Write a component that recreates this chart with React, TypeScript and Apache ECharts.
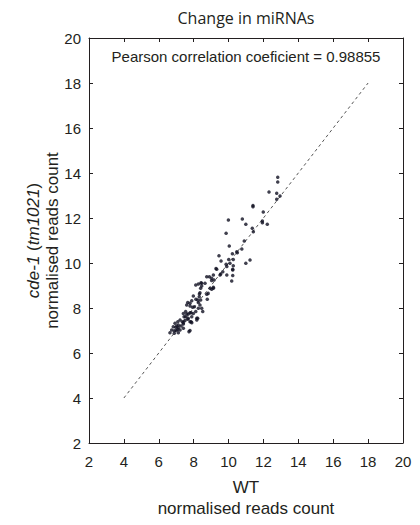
import React, { useEffect, useRef } from "react";
import * as echarts from "echarts";

const titleText = "Change in miRNAs";
const pearsonText = "Pearson correlation coeficient = 0.98855";
const xNameLines = ["WT", "normalised reads count"];
const yNameLines = ["{i|cde-1} ({i|tm1021})", "normalised reads count"];

const axisMin = 2;
const axisMax = 20;
const axisStep = 2;

const refLine = [4, 18];

const wt = [
  12.82, 12.82, 12.32, 12.76, 12.95, 12.76, 11.4, 11.4, 11.99, 9.99,
  10.79, 10.99, 11.94, 11.94, 12.22, 11.36, 11.42, 9.86, 10.9, 10.04,
  10.76, 10.47, 10.22, 9.45, 10.01, 9.57, 11.23, 10.99, 9.86, 10.27,
  9.28, 10.24, 9.67, 9.13, 8.9, 8.75, 9.51, 9.9, 10.24, 10.18,
  8.46, 8.12, 8.27, 8.42, 8.65, 8.46, 9.03, 9.17, 8.75, 8.83,
  9.13, 8.33, 7.66, 7.79, 7.89, 8.23, 8.36, 8.46, 8.27, 8.04,
  8.12, 7.41, 7.54, 7.69, 7.85, 7.98, 8.23, 7.54, 7.66, 7.22,
  7.35, 7.85, 6.93, 7.09, 7.12, 7.28, 7.41, 6.83, 6.97, 6.74,
  6.89, 7.09, 7.22, 7.41, 6.64, 6.89, 7.12, 7.73, 10.27, 10.24,
  10.08, 9.9, 9.32, 9.03, 9.55, 8.94, 9.13, 9.03, 8.4, 8.36,
  7.98, 8.13, 8.32, 8.4, 8.27, 8.78, 7.6, 7.79, 7.94, 8.52,
  7.6, 7.79, 7.45, 7.69, 7.89, 8.18, 7.41, 7.5, 7.79, 7.89,
  8.18, 7.03, 7.12, 7.0, 7.79, 10.5,
];

const cde = [
  13.81, 13.6, 13.16, 13.1, 12.98, 12.83, 12.56, 12.5, 12.27, 11.91,
  11.96, 11.72, 11.87, 11.79, 11.72, 11.54, 11.39, 11.32, 10.98, 10.76,
  10.62, 10.5, 10.41, 10.32, 10.16, 10.09, 10.13, 9.99, 9.94, 9.88,
  9.76, 9.69, 9.61, 9.47, 9.39, 9.39, 9.47, 9.47, 9.44, 9.2,
  9.1, 9.02, 9.07, 9.12, 9.1, 8.98, 9.22, 9.24, 8.61, 8.65,
  8.88, 8.62, 8.24, 8.21, 8.32, 8.36, 8.13, 7.99, 7.99, 8.06,
  7.84, 7.76, 7.84, 7.73, 7.79, 7.76, 7.54, 7.61, 7.5, 7.47,
  7.39, 7.39, 7.32, 7.39, 7.24, 7.2, 7.29, 7.17, 7.14, 7.02,
  6.99, 7.05, 7.02, 7.1, 6.9, 6.88, 6.9, 6.95, 10.16, 9.72,
  9.99, 9.84, 9.72, 9.32, 9.51, 8.88, 8.92, 8.83, 8.88, 8.68,
  8.53, 8.39, 8.5, 8.36, 8.24, 8.39, 8.13, 8.09, 8.03, 7.84,
  7.73, 7.79, 7.61, 7.54, 7.61, 7.54, 7.35, 7.44, 7.39, 7.35,
  7.47, 7.2, 7.12, 7.0, 7.0, 10.46,
];

const INK = "#231f20";
const SANS = "'Liberation Sans', Arial, sans-serif";

export default function App() {
  const ref = useRef<HTMLDivElement>(null);
  useEffect(() => {
    if (!ref.current) return;
    const chart = echarts.init(ref.current, null, { renderer: "svg" });
    const gridLeft = 89;
    const gridRight = 17;
    const gridTop = 38;
    const gridBottom = 82;
    const W = 420;
    const H = 525;
    const cx = gridLeft + (W - gridLeft - gridRight) / 2;
    const cy = gridTop + (H - gridTop - gridBottom) / 2;

    const baseAxis = {
      type: "value" as const,
      min: axisMin,
      max: axisMax,
      interval: axisStep,
      axisLine: { show: true, lineStyle: { color: INK, width: 1 } },
      axisTick: { show: true, inside: true, length: 4, lineStyle: { color: INK } },
      splitLine: { show: false },
    };

    chart.setOption({
      animation: false,
      backgroundColor: "#ffffff",
      grid: { left: gridLeft, right: gridRight, top: gridTop, bottom: gridBottom, containLabel: false },
      xAxis: [
        {
          ...baseAxis,
          position: "bottom",
          axisLabel: { color: INK, fontSize: 15, fontFamily: SANS, margin: 11 },
        },
        {
          ...baseAxis,
          position: "top",
          axisLabel: { show: false },
        },
      ],
      yAxis: [
        {
          ...baseAxis,
          position: "left",
          axisLabel: { color: INK, fontSize: 15, fontFamily: SANS, margin: 8 },
        },
        {
          ...baseAxis,
          position: "right",
          axisLabel: { show: false },
        },
      ],
      series: [
        {
          type: "line",
          data: refLine.map((v) => [v, v]),
          symbol: "none",
          lineStyle: { color: "#555555", width: 1, type: [3, 3] },
          silent: true,
          z: 1,
        },
        {
          type: "scatter",
          data: wt.map((x, i) => [x, cde[i]]),
          symbolSize: 3.5,
          itemStyle: { color: "#101022" },
          z: 2,
        },
      ],
      graphic: [
        {
          type: "text",
          x: cx,
          y: 18,
          style: {
            text: titleText,
            fill: INK,
            fontSize: 16,
            fontFamily: "'Open Sans', sans-serif",
            align: "center",
            verticalAlign: "middle",
          },
        },
        {
          type: "text",
          x: cx,
          y: 56,
          style: {
            text: pearsonText,
            fill: INK,
            fontSize: 15,
            fontFamily: SANS,
            align: "center",
            verticalAlign: "middle",
          },
        },
        {
          type: "text",
          x: cx,
          y: 487,
          style: {
            text: xNameLines[0],
            fill: INK,
            fontSize: 17,
            fontFamily: SANS,
            align: "center",
            verticalAlign: "middle",
          },
        },
        {
          type: "text",
          x: cx,
          y: 508,
          style: {
            text: xNameLines[1],
            fill: INK,
            fontSize: 17,
            fontFamily: SANS,
            align: "center",
            verticalAlign: "middle",
          },
        },
        {
          type: "text",
          x: 33,
          y: cy,
          rotation: Math.PI / 2,
          style: {
            text: yNameLines[0],
            fill: INK,
            fontSize: 17,
            fontFamily: SANS,
            align: "center",
            verticalAlign: "middle",
            rich: {
              i: { fontStyle: "italic", fontSize: 17, fontFamily: SANS, fill: INK },
            },
          },
        },
        {
          type: "text",
          x: 52,
          y: cy,
          rotation: Math.PI / 2,
          style: {
            text: yNameLines[1],
            fill: INK,
            fontSize: 17,
            fontFamily: SANS,
            align: "center",
            verticalAlign: "middle",
          },
        },
      ],
    });
    return () => chart.dispose();
  }, []);
  return (
    <div
      ref={ref}
      style={{ position: "absolute", left: 0, top: 0, width: 420, height: 525 }}
    />
  );
}
